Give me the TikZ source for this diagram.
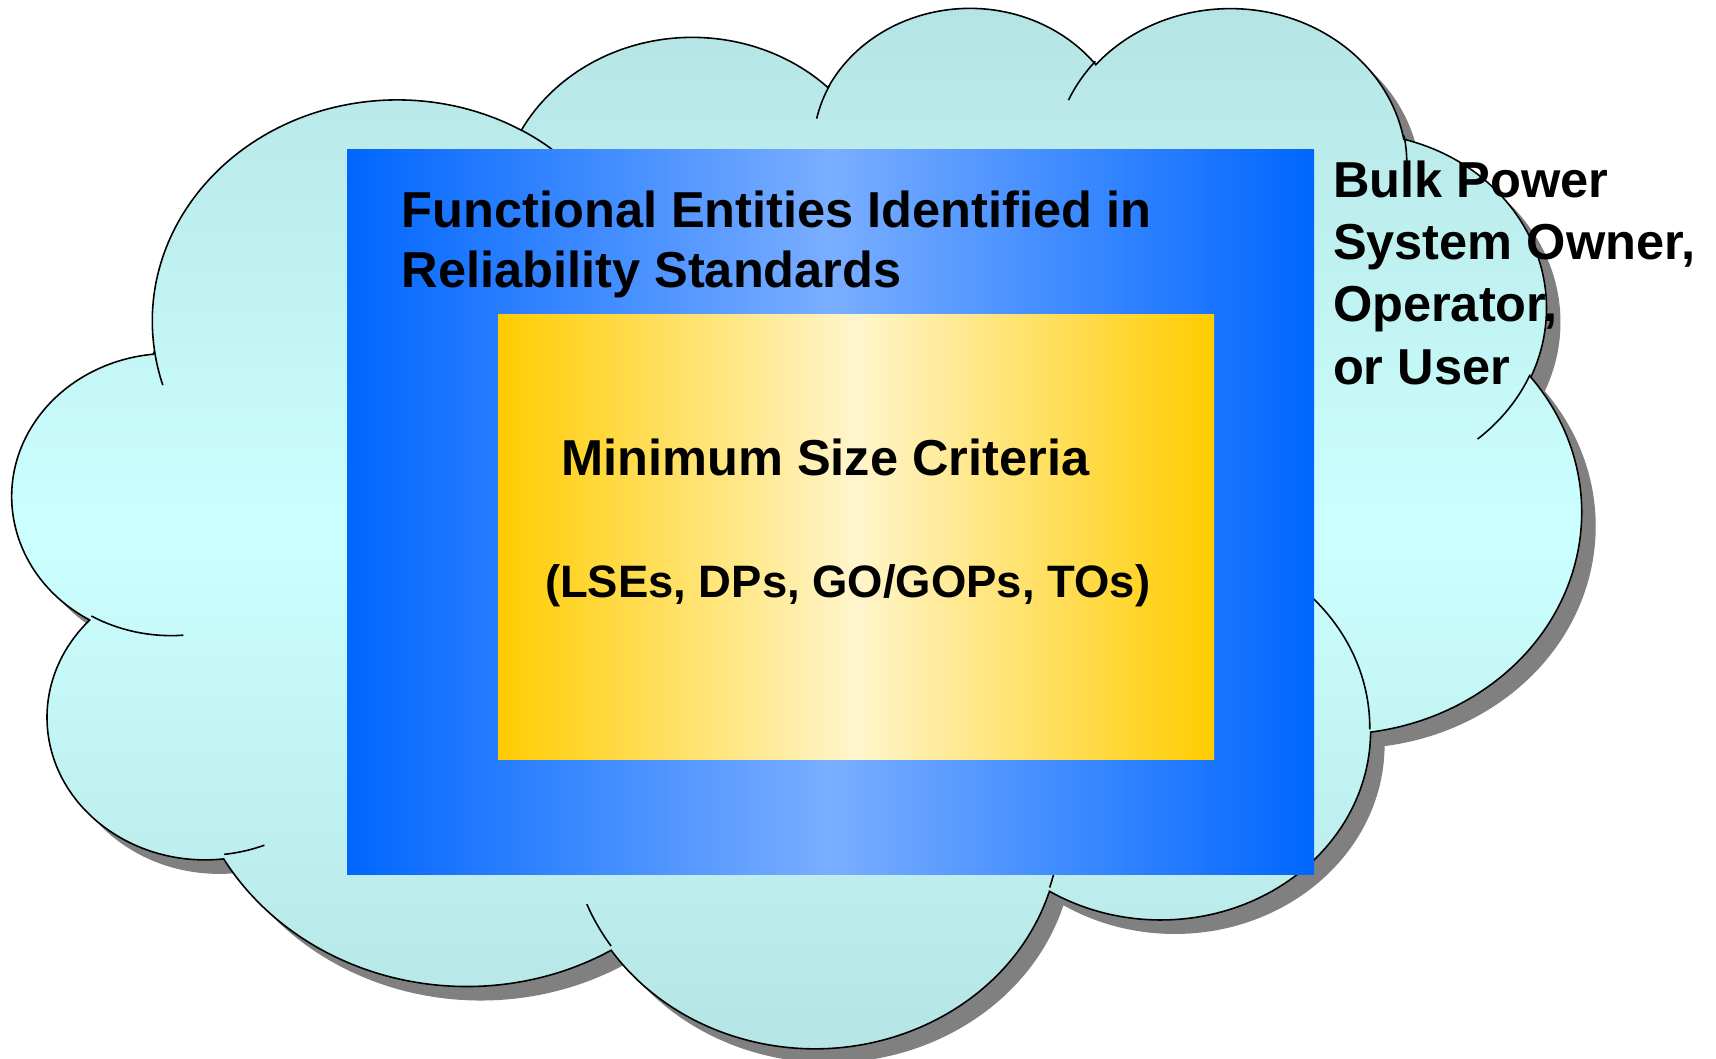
\documentclass[tikz,border=0pt]{standalone}
\usepackage{fontspec}
\setmainfont{Liberation Sans}
\definecolor{cloudEdge}{HTML}{B4E3E3}
\definecolor{cloudMid}{HTML}{CCFFFF}
\definecolor{blueEdge}{HTML}{0066FF}
\definecolor{blueMid}{HTML}{7AAEFF}
\definecolor{goldEdge}{HTML}{FFCC00}
\definecolor{goldMid}{HTML}{FFF5CC}
\definecolor{shadowGray}{HTML}{808080}
% OOXML-style arcTo: radii, start angle and sweep (geometric angles) -> TikZ arc
\newcommand\ooarc[5]{%
  \pgfmathsetmacro\ooStart{atan2((#2)*sin(#4),(#3)*cos(#4))}%
  \pgfmathsetmacro\ooFin{atan2((#2)*sin((#4)+(#5)),(#3)*cos((#4)+(#5)))}%
  \pgfmathsetmacro\ooEnd{(\ooStart)+mod((\ooFin)-(\ooStart)+720,360)}%
  \expandafter\xdef\csname cArc#1\endcsname{arc[start angle=\ooStart, end angle=\ooEnd, x radius=#2, y radius=#3]}%
}
\begin{document}
\begin{tikzpicture}[x=0.01cm,y=-0.01cm,
  cloudframe/.style={shift={(13,5)},xscale=3.62963,yscale=2.407407},
  outline/.style={draw=black,line width=0.45pt},
  lbl/.style={inner sep=0pt,anchor=base west,font=\fontsize{14.37pt}{17pt}\selectfont\bfseries},
  lblsmall/.style={inner sep=0pt,anchor=base west,font=\fontsize{12.92pt}{15pt}\selectfont\bfseries}]
% outline arcs of the cloud
\ooarc{A}{67.53}{91.90}{-190.48748}{123.78053}
\ooarc{B}{53.33}{72.67}{-144.10238}{89.94523}
\ooarc{C}{43.65}{59.45}{-145.80792}{99.72302}
\ooarc{D}{48.57}{65.95}{-130.98607}{117.24173}
\ooarc{E}{53.33}{72.73}{-78.70888}{109.02692}
\ooarc{F}{67.75}{92.20}{-46.26725}{130.269}
\ooarc{G}{57.85}{78.67}{0.62502}{114.03333}
\ooarc{H}{67.52}{92.15}{22.4516}{115.17255}
\ooarc{I}{77.20}{105.43}{66.24263}{75.71102}
\ooarc{J}{43.60}{59.18}{-274.94208}{146.73557}
\ooarc{K}{43.45}{59.45}{-246.8285}{152.51885}
% inner arcs
\ooarc{Ia}{43.45}{59.45}{86.742}{26.4295}
\ooarc{Ib}{43.60}{59.18}{73.61047}{11.44747}
\ooarc{Ic}{67.52}{92.15}{137.62415}{14.0811}
\ooarc{Id}{67.52}{92.15}{6.45327}{15.99835}
\ooarc{Ie}{57.85}{78.67}{-70.29235}{70.91737}
\ooarc{If}{53.33}{72.73}{30.31803}{27.7515}
\ooarc{Ig}{48.57}{65.95}{-13.74433}{14.8589}
\ooarc{Ih}{48.57}{65.95}{-149.18145}{18.19537}
\ooarc{Ii}{43.65}{59.45}{-163.49427}{17.68635}
\ooarc{Ij}{67.53}{91.90}{-66.70695}{12.31935}
\ooarc{Ik}{67.53}{91.90}{157.65435}{11.85817}
\def\cloudP{(39.00,143.70) \cArcA \cArcB \cArcC \cArcD \cArcE \cArcF \cArcG \cArcH \cArcI \cArcJ \cArcK -- cycle}
% page
\useasboundingbox (0,0) rectangle (1716,1058);
\fill[white] (0,0) rectangle (1716,1058);
% shadow
\begin{scope}[shift={(14,14)}]
  \begin{scope}[cloudframe]
    \fill[shadowGray] \cloudP;
  \end{scope}
\end{scope}
% cloud
\begin{scope}[cloudframe]
  \shadedraw[outline,top color=cloudEdge,bottom color=cloudEdge,middle color=cloudMid] \cloudP;
  \draw[outline] (46.93,261.77) \cArcIa;
  \draw[outline] (69.28,348.99) \cArcIb;
  \draw[outline] (164.78,390.90) \cArcIc;
  \draw[outline] (288.27,347.51) \cArcId;
  \draw[outline] (341.29,229.54) \cArcIe;
  \draw[outline] (417.98,153.54) \cArcIf;
  \draw[outline] (383.24,54.26) \cArcIg;
  \draw[outline] (290.78,39.52) \cArcIh;
  \draw[outline] (221.41,47.20) \cArcIi;
  \draw[outline] (140.00,51.92) \cArcIj;
  \draw[outline] (41.27,157.89) \cArcIk;
\end{scope}
% outer blue box
\shade[left color=blueEdge,right color=blueEdge,middle color=blueMid] (347,150) rectangle (1314,874);
% inner gold box
\shade[left color=goldEdge,right color=goldEdge,middle color=goldMid] (498,315) rectangle (1214,759);
% texts
\node[lbl] (fe1) at (401,227.3) {Functional Entities Identified in};
\node[lbl] (fe2) at (401,287.3) {Reliability Standards};
\node[lbl] (msc) at (560.6,475) {Minimum Size Criteria};
\node[lblsmall] (lse) at (544.3,597.7) {(LSEs, DPs, GO/GOPs, TOs)};
\node[lbl] (bp1) at (1332.3,198) {Bulk Power};
\node[lbl] (bp2) at (1332.3,260) {System Owner,};
\node[lbl] (bp3) at (1332.3,322) {Operator,};
\node[lbl] (bp4) at (1332.3,384) {or User};
\end{tikzpicture}
\end{document}
